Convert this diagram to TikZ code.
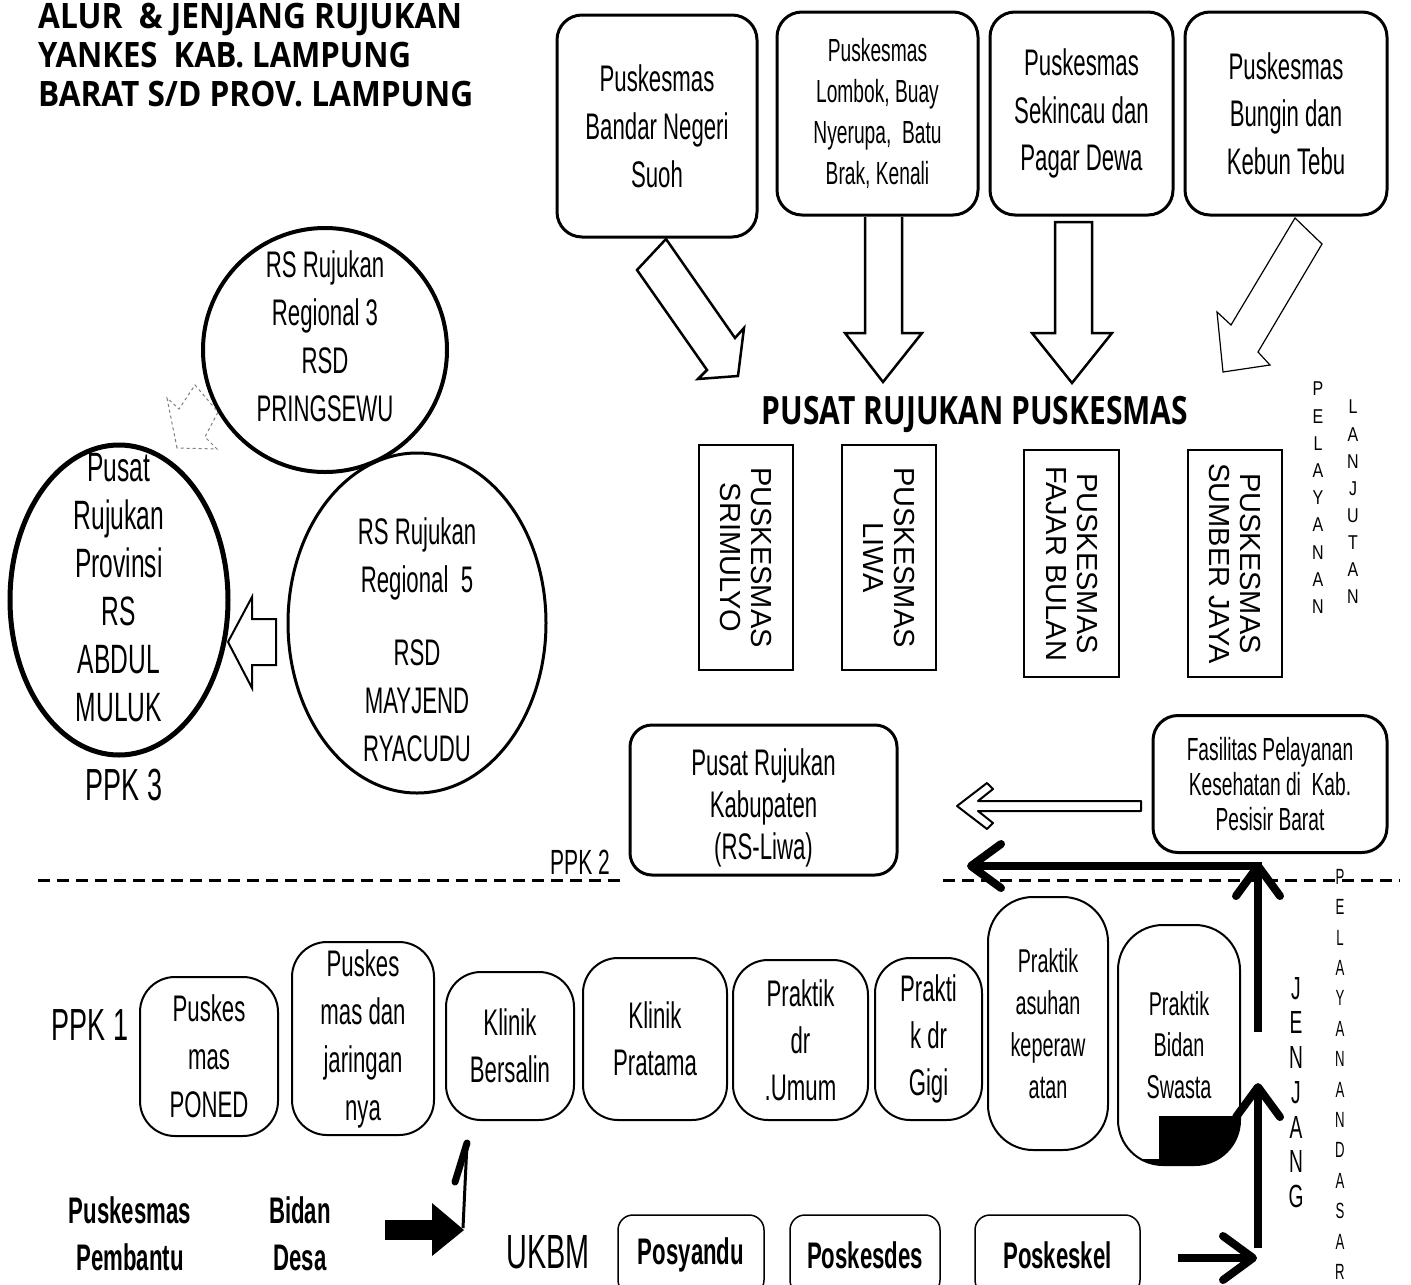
\documentclass[tikz,border=0pt]{standalone}
\usepackage{fontspec}
\usepackage{graphicx}
\setmainfont{Liberation Sans}[FakeStretch=0.6]
\newfontfamily\regf{Liberation Sans}
\newfontfamily\midf{Liberation Sans}[FakeStretch=0.8]
\newfontfamily\ttlf{Open Sans}
\usetikzlibrary{shapes.geometric,arrows.meta}
\newcommand{\fsz}[2]{\fontsize{#1}{#2}\selectfont}
\begin{document}
\begin{tikzpicture}[x=1pt,y=-1pt,
 topbox/.style={draw, line width=3pt, rounded corners=25pt, align=center, inner sep=0pt},
 rowbox/.style={draw, line width=2pt, rounded corners=35pt, align=center, inner sep=0pt},
 vbox/.style={draw, line width=2.5pt, inner sep=0pt},
 vtext/.style={rotate=-90, align=center, inner sep=0pt, font=\regf\fsz{29}{31}},
 blk/.style={draw, line width=2.5pt, line join=miter},
 bigarrow/.style={line width=8pt, -{Straight Barb[length=30pt,width=44pt,round]}},
 dashln/.style={line width=3pt, dash pattern=on 12pt off 7pt},
 ukbmbox/.style={draw, line width=1.5pt, rounded corners=15pt, inner sep=0pt, font=\bfseries\fsz{37}{40}},
 plain/.style={inner sep=0pt, align=center},
 vstack/.style={inner sep=0pt, align=center, anchor=north},
]
\path[use as bounding box] (0,0) rectangle (1411,1285);
\fill[white] (0,0) rectangle (1411,1285);
\clip (0,0) rectangle (1411,1285);

% title
\node[anchor=base west, inner sep=0pt] (t1) at (38,28) {\resizebox{424pt}{\height}{\ttlf\bfseries\fsz{35}{35}ALUR\ \ \& JENJANG RUJUKAN}};
\node[anchor=base west, inner sep=0pt] (t2) at (38,67) {\resizebox{373pt}{\height}{\ttlf\bfseries\fsz{35}{35}YANKES\ \ KAB. LAMPUNG}};
\node[anchor=base west, inner sep=0pt] (t3) at (38,106) {\resizebox{435pt}{\height}{\ttlf\bfseries\fsz{35}{35}BARAT S/D PROV. LAMPUNG}};

% top boxes
\node[topbox, minimum width=200pt, minimum height=222pt, font=\fsz{37}{48}] (b1) at (657,126) {Puskesmas\\Bandar Negeri\\Suoh};
\node[topbox, minimum width=201pt, minimum height=203pt, font=\fsz{32}{41}] (b2) at (877.5,113.5) {Puskesmas\\Lombok, Buay\\Nyerupa,\ \ Batu\\Brak, Kenali};
\node[topbox, minimum width=183pt, minimum height=203pt, font=\fsz{37}{47.5}] (b3) at (1081.5,113.5) {Puskesmas\\Sekincau dan\\Pagar Dewa};
\node[topbox, minimum width=202pt, minimum height=203pt, font=\fsz{37}{47.5}] (b4) at (1286,113.5) {Puskesmas\\Bungin dan\\Kebun Tebu};

% block arrows from top boxes
\draw[blk, fill=white] (666,239) -- (637,270) -- (707,370) -- (698,379) -- (738,376) -- (744,328) -- (735,338) -- cycle;
\draw[blk] (865,217) -- (865,333) -- (845,333) -- (883,382) -- (922,333) -- (902,333) -- (902,217);
\draw[blk] (1055,222) -- (1092,222) -- (1092,333) -- (1112,333) -- (1072,383) -- (1032,333) -- (1055,333) -- cycle;
\draw[line width=1.2pt, line join=miter] (1295,218) -- (1322,244) -- (1258,352) -- (1270,365) -- (1223,372) -- (1217,312) -- (1231,325) -- cycle;

% pusat rujukan puskesmas
\node[anchor=base, inner sep=0pt] (prp) at (975,424) {\resizebox{426pt}{\height}{\ttlf\bfseries\fsz{39}{39}PUSAT RUJUKAN PUSKESMAS}};

% vertical boxes
\node[vbox, minimum width=94pt, minimum height=225pt] (v1) at (746,557.5) {};
\node[vtext] (v1t) at (v1.center) {PUSKESMAS\\SRIMULYO};
\node[vbox, minimum width=94pt, minimum height=225pt] (v2) at (889,557.5) {};
\node[vtext] (v2t) at (v2.center) {PUSKESMAS\\LIWA};
\node[vbox, minimum width=95pt, minimum height=227pt] (v3) at (1071.5,563.5) {};
\node[vtext] (v3t) at (v3.center) {PUSKESMAS\\FAJAR BULAN};
\node[vbox, minimum width=94pt, minimum height=227pt] (v4) at (1235,563.5) {};
\node[vtext] (v4t) at (v4.center) {PUSKESMAS\\SUMBER JAYA};

% vertical words right top
\node[vstack, font=\midf\fsz{20}{27.2}] (pel1) at (1318,382) {P\\E\\L\\A\\Y\\A\\N\\A\\N};
\node[vstack, font=\midf\fsz{20}{27.1}] (lan) at (1353,400) {L\\A\\N\\J\\U\\T\\A\\N};

% circles
\node[circle, draw, line width=4pt, minimum size=244pt, inner sep=0pt] (c3) at (325,350) {};
\node[plain, font=\fsz{37}{48}] (c3t) at (325,336) {RS Rujukan\\Regional 3\\RSD\\PRINGSEWU};
\node[ellipse, draw, line width=5pt, minimum width=218pt, minimum height=310pt, inner sep=0pt] (cA) at (119,600) {};
\node[plain, font=\fsz{41}{48}] (cAt) at (119,588) {Pusat\\Rujukan\\Provinsi\\RS\\ABDUL\\MULUK};
\node[ellipse, draw, line width=3pt, minimum width=258pt, minimum height=340pt, inner sep=0pt] (c5) at (417,623) {};
\node[plain, font=\fsz{37}{48}] (c5t) at (417,640) {RS Rujukan\\Regional\ \ 5\\[25pt]RSD\\MAYJEND\\RYACUDU};
\node[plain, font=\fsz{45}{45}] (ppk3) at (124,785) {PPK 3};

% arrows between circles
\draw[line width=1pt, gray, dashed] (177,448) -- (167,398) -- (179,409) -- (195,385) -- (218,412) -- (205,437) -- (217,449) -- cycle;
\draw[line width=2pt, line join=miter] (228,642) -- (252,597) -- (252,619) -- (276,619) -- (276,665) -- (252,665) -- (252,688) -- cycle;

% PPK2 level
\node[draw, line width=3pt, rounded corners=22pt, minimum width=267pt, minimum height=150pt, inner sep=0pt] (kab) at (763.5,800) {};
\node[plain, font=\fsz{37}{42}] (kabt) at (763.5,808) {Pusat Rujukan\\Kabupaten\\(RS-Liwa)};
\node[draw, line width=3pt, rounded corners=25pt, minimum width=234pt, minimum height=137pt, inner sep=0pt, align=center, font=\fsz{32}{35}] (fas) at (1270,784) {Fasilitas Pelayanan\\Kesehatan di\ \ Kab.\\Pesisir Barat};
\node[plain, font=\fsz{35}{35}] (ppk2) at (580,862) {PPK 2};
\draw[line width=2pt, line join=round] (1141,801) -- (978,801) -- (993,789) -- (987,783) -- (957,806) -- (987,829) -- (993,823) -- (978,811) -- (1141,811) -- cycle;

% dashed separator
\coordinate (dl1) at (38,880); \coordinate (dl2) at (620,880);
\coordinate (dr1) at (943,880); \coordinate (dr2) at (1400,880);
\draw[dashln] (dl1) -- (dl2);
\draw[dashln] (dr1) -- (dr2);

% PPK1 row
\node[plain, font=\fsz{45}{45}] (ppk1) at (90,1025) {PPK 1};
\node[rowbox, minimum width=138pt, minimum height=159pt, font=\fsz{37}{48}] (r1) at (209,1056.5) {Puskes\\mas\\PONED};
\node[rowbox, minimum width=142pt, minimum height=193pt, font=\fsz{37}{48}] (r2) at (363,1038.5) {Puskes\\mas dan\\jaringan\\nya};
\node[rowbox, minimum width=128pt, minimum height=148pt, font=\fsz{37}{47}] (r3) at (510,1046) {Klinik\\Bersalin};
\node[rowbox, minimum width=144pt, minimum height=162pt, font=\fsz{37}{47}] (r4) at (655,1039) {Klinik\\Pratama};
\node[rowbox, minimum width=135pt, minimum height=160pt, font=\fsz{37}{47}] (r5) at (800.5,1040) {Praktik\\dr\\.Umum};
\node[rowbox, minimum width=107pt, minimum height=162pt, font=\fsz{37}{47}] (r6) at (928.5,1039) {Prakti\\k dr\\Gigi};
\node[rowbox, rounded corners=45pt, minimum width=120pt, minimum height=253pt, font=\fsz{33}{42}] (r7) at (1048,1023.5) {Praktik\\asuhan\\keperaw\\atan};
\node[rowbox, rounded corners=45pt, minimum width=122pt, minimum height=240pt, font=\fsz{33}{41.5}] (r8) at (1179,1045) {Praktik\\Bidan\\Swasta};
\begin{scope}
\clip[rounded corners=45pt] (1118,925) rectangle (1240,1165);
\fill (1159,1116) rectangle (1244,1170);
\fill (1110,1159) rectangle (1244,1170);
\end{scope}

% right vertical words
\node[vstack, font=\fsz{32}{34.7}] (jen) at (1296,977) {J\\E\\N\\J\\A\\N\\G};
\node[vstack, font=\fsz{22}{30.4}] (pel2) at (1340,869) {P\\E\\L\\A\\Y\\A\\N\\A\\N\\D\\A\\S\\A\\R};

% thick arrows
\coordinate (a1s) at (1258,1248); \coordinate (a1e) at (1258,1083);
\coordinate (a2s) at (1258,1032); \coordinate (a2e) at (1258,862);
\coordinate (a3s) at (1262,866); \coordinate (a3e) at (967,866);
\coordinate (a4s) at (1178,1258); \coordinate (a4e) at (1257,1258);
\draw[bigarrow] (a1s) -- (a1e);
\draw[bigarrow] (a2s) -- (a2e);
\draw[bigarrow] (a3s) -- (a3e);
\draw[bigarrow] (a4s) -- (a4e);

% bottom left
\node[plain, font=\bfseries\fsz{37}{47}] (pp) at (130,1234) {Puskesmas\\Pembantu};
\node[plain, font=\bfseries\fsz{37}{47}] (bd) at (300,1234) {Bidan\\Desa};
\fill (385,1220) rectangle (434,1240);
\fill (432,1203) -- (464,1230) -- (432,1256) -- cycle;
\coordinate (w1) at (467,1143); \coordinate (w2) at (463,1228); \coordinate (w3) at (455,1182);
\draw[line width=3pt] (w1) -- (w2);
\draw[line width=7pt, line cap=round] (w1) -- (w3);

% UKBM
\node[plain, font=\fsz{48}{48}] (ukbm) at (548,1252) {UKBM};
\node[ukbmbox, minimum width=146pt, minimum height=80pt] (posy) at (691,1255) {Posyandu};
\node[ukbmbox, minimum width=150pt, minimum height=80pt] (posd) at (865,1255) {Poskesdes};
\node[ukbmbox, minimum width=165pt, minimum height=80pt] (posk) at (1057.5,1255) {Poskeskel};
\end{tikzpicture}
\end{document}
